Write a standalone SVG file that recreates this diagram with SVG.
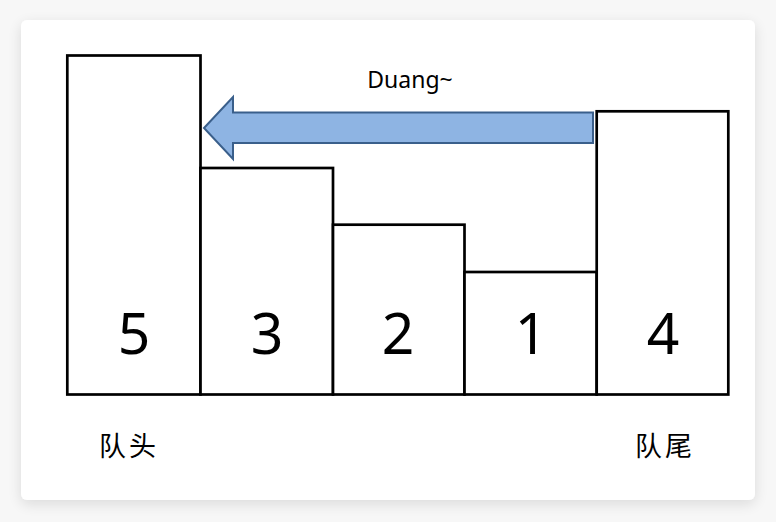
<svg xmlns="http://www.w3.org/2000/svg" width="776" height="522" viewBox="0 0 776 522">
  <defs>
    <filter id="shadow" x="-10%" y="-10%" width="120%" height="125%">
      <feGaussianBlur in="SourceAlpha" stdDeviation="7"/>
      <feOffset dx="0" dy="4" result="b"/>
      <feComponentTransfer><feFuncA type="linear" slope="0.12"/></feComponentTransfer>
      <feMerge><feMergeNode/><feMergeNode in="SourceGraphic"/></feMerge>
    </filter>
  </defs>
  <style>
    .bar { fill: #ffffff; stroke: #000000; stroke-width: 2.7; }
    .num { font-family: "Noto Sans", "Open Sans", sans-serif; font-size: 57px; fill: #000000; text-anchor: middle; }
    .lbl { font-family: "Noto Sans CJK SC", "Noto Sans", sans-serif; font-size: 27px; letter-spacing: 3px; fill: #000000; }
    .cap { font-family: "Noto Sans", "Open Sans", sans-serif; font-size: 23px; fill: #000000; text-anchor: middle; }
    .arrow { fill: #8EB4E3; stroke: #3A5F8B; stroke-width: 2; stroke-linejoin: miter; }
  </style>
  <rect x="0" y="0" width="776" height="522" fill="#f7f7f7"/>
  <rect x="21" y="20" width="734" height="480" rx="6" ry="6" fill="#ffffff" filter="url(#shadow)"/>

  <g id="bar5">
    <rect class="bar" x="67.3" y="55.5" width="133.2" height="339"/>
    <text class="num" x="134" y="354">5</text>
  </g>
  <g id="bar3">
    <rect class="bar" x="200.5" y="168" width="132.5" height="226.5"/>
    <text class="num" x="267" y="354">3</text>
  </g>
  <g id="bar2">
    <rect class="bar" x="333" y="224.7" width="131.5" height="169.8"/>
    <text class="num" x="398" y="354">2</text>
  </g>
  <g id="bar1">
    <rect class="bar" x="464.5" y="272" width="132.2" height="122.5"/>
    <text class="num" x="531" y="354">1</text>
  </g>
  <g id="bar4">
    <rect class="bar" x="596.7" y="111.3" width="131.6" height="283.2"/>
    <text class="num" x="663" y="354">4</text>
  </g>

  <g id="connectors">
    <polygon class="arrow" points="204,128 233,97 233,112.5 593,112.5 593,143 233,143 233,159"/>
    <text class="cap" x="410" y="88">Duang~</text>
  </g>

  <g id="label-head">
    <text class="lbl" x="99" y="456">队头</text>
  </g>
  <g id="label-tail">
    <text class="lbl" x="635" y="456">队尾</text>
  </g>
</svg>
